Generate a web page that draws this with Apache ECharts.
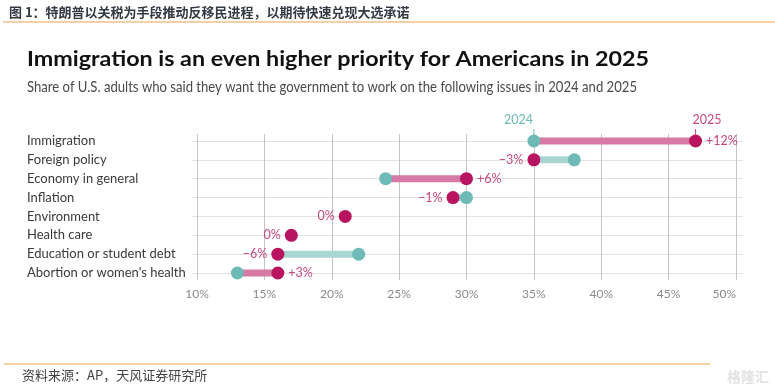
<!DOCTYPE html>
<html><head><meta charset="utf-8">
<script src="https://cdn.jsdelivr.net/npm/echarts@6/dist/echarts.min.js"></script>
<style>html,body{margin:0;padding:0;background:#fff}#c{width:775px;height:388px}</style>
</head><body><div id="c"></div>
<script>
var categories = ['Immigration','Foreign policy','Economy in general','Inflation','Environment','Health care','Education or student debt',"Abortion or women's health"];
var values2024 = [35, 38, 24, 30, 21, 17, 22, 13];
var values2025 = [47, 35, 30, 29, 21, 17, 16, 16];
var changeLabels = ['+12%', '\u22123%', '+6%', '\u22121%', '0%', '0%', '\u22126%', '+3%'];
var xTicks = [10, 15, 20, 25, 30, 35, 40, 45, 50];
var yearLabels = ['2024', '2025'];

var TITLE = 'Immigration is an even higher priority for Americans in 2025';
var SUBTITLE = 'Share of U.S. adults who said they want the government to work on the following issues in 2024 and 2025';

var TEAL = '#6dbab6', TEAL_L = '#a8d6d2', MAG = '#b9145f', PINK = '#d57aa4', LBL = '#c4487f';
var chart = echarts.init(document.getElementById('c'));

function fitScale(text, font, target){
  var cv = document.createElement('canvas').getContext('2d');
  cv.font = font;
  return target / cv.measureText(text).width;
}
var titleFont = 'bold 21px Lato';
var subFont = '15px Lato';
var sxTitle = fitScale(TITLE, titleFont, 622);
var sxSub = fitScale(SUBTITLE, subFont, 610);

var pxPerUnit = (736 - 197) / (xTicks[xTicks.length-1] - xTicks[0]);
var dMin = xTicks[0] - 5 / pxPerUnit, dMax = xTicks[xTicks.length-1] + 7 / pxPerUnit;

var segData = categories.map(function(c, i){ return [values2024[i], values2025[i], i]; });
var dot24 = categories.map(function(c, i){ return values2024[i] === values2025[i] ? null : [values2024[i], c]; }).filter(Boolean);
var dot25 = categories.map(function(c, i){ return { value: [values2025[i], c], label: { position: values2025[i] > values2024[i] ? 'right' : 'left', formatter: changeLabels[i] } }; });
var hdr = [[values2024[0], 0, yearLabels[0], 'right'], [values2025[0], 0, yearLabels[1], 'left']];

chart.setOption({
  animation: false,
  textStyle: { fontFamily: 'Lato, sans-serif' },
  title: [
    { text: '图 1：特朗普以关税为手段推动反移民进程，以期待快速兑现大选承诺', left: 4, top: 1,
      textStyle: { fontFamily: '"Noto Sans CJK SC"', fontSize: 13, fontWeight: 'bold', color: '#333a44' } },
    { text: '资料来源：AP，天风证券研究所', left: 17, top: 364,
      textStyle: { fontFamily: '"Noto Sans CJK SC"', fontSize: 13, fontWeight: 'normal', color: '#444' } },
    { text: '格隆汇', left: 722, top: 365,
      textStyle: { fontFamily: '"Noto Sans CJK SC"', fontSize: 14, fontWeight: 'bold', color: '#e2e2e2' } }
  ],
  graphic: [
    { type: 'line', shape: { x1: 3, y1: 22, x2: 775, y2: 22 }, style: { stroke: '#e8a24f', lineWidth: 1.2 } },
    { type: 'line', shape: { x1: 4, y1: 364, x2: 710, y2: 364 }, style: { stroke: '#e8a24f', lineWidth: 1.2 } },
    { type: 'text', x: 27, y: 59, scaleX: sxTitle, originX: 0,
      style: { text: TITLE, font: titleFont, fill: '#111', verticalAlign: 'middle' } },
    { type: 'text', x: 27, y: 87, scaleX: sxSub, originX: 0,
      style: { text: SUBTITLE, font: subFont, fill: '#4a4a4a', verticalAlign: 'middle' } }
  ],
  grid: [
    { left: 197, right: 39, top: 134, bottom: 108 },
    { left: 192, right: 32, top: 141, bottom: 115 }
  ],
  xAxis: [
    { gridIndex: 0, type: 'value', min: xTicks[0], max: xTicks[xTicks.length-1], interval: 5,
      axisLine: { show: false }, axisTick: { show: false },
      axisLabel: { formatter: '{value}%', color: '#8a8a8a', fontSize: 12, margin: 8, alignMaxLabel: 'right' },
      splitLine: { show: true, lineStyle: { color: '#c4c4c4', width: 1 } } },
    { gridIndex: 1, type: 'value', min: dMin, max: dMax, show: false, splitLine: { show: false } }
  ],
  yAxis: [
    { gridIndex: 0, type: 'value', show: false, splitLine: { show: false } },
    { gridIndex: 1, type: 'category', data: categories, inverse: true, boundaryGap: false,
      axisLine: { show: false }, axisTick: { show: false },
      axisLabel: { align: 'left', margin: 165, color: '#3a3a3a', fontSize: 13, fontFamily: 'Lato, sans-serif' },
      splitLine: { show: true, lineStyle: { color: '#e2e2e2', width: 1 } } }
  ],
  series: [
    { type: 'custom', xAxisIndex: 1, yAxisIndex: 1, data: segData, clip: false, z: 2,
      renderItem: function(params, api){
        var a = api.coord([api.value(0), api.value(2)]);
        var b = api.coord([api.value(1), api.value(2)]);
        return { type: 'line', shape: { x1: a[0], y1: a[1], x2: b[0], y2: b[1] },
          style: { stroke: api.value(1) >= api.value(0) ? PINK : TEAL_L, lineWidth: 7 } };
      } },
    { type: 'custom', xAxisIndex: 1, yAxisIndex: 1, data: hdr, clip: false, z: 2,
      renderItem: function(params, api){
        var p = api.coord([api.value(0), api.value(1)]);
        var i = params.dataIndex;
        var col = i === 0 ? TEAL : LBL;
        return { type: 'group', children: [
          { type: 'line', shape: { x1: p[0], y1: p[1] - 12, x2: p[0], y2: p[1] - 6 }, style: { stroke: col, lineWidth: 1 } },
          { type: 'text', x: p[0] + (i === 0 ? -1 : -3), y: p[1] - 21,
            style: { text: hdr[i][2], fill: col, fontSize: 12.5, fontFamily: 'Lato, sans-serif', align: hdr[i][3], verticalAlign: 'middle' } }
        ] };
      } },
    { type: 'scatter', xAxisIndex: 1, yAxisIndex: 1, data: dot24, symbolSize: 13, z: 3,
      itemStyle: { color: TEAL, opacity: 1 } },
    { type: 'scatter', xAxisIndex: 1, yAxisIndex: 1, data: dot25, symbolSize: 13, z: 4,
      itemStyle: { color: MAG, opacity: 1 },
      label: { show: true, color: LBL, fontSize: 12.5, distance: 4, fontFamily: 'Lato, sans-serif' } }
  ]
});
</script></body></html>
